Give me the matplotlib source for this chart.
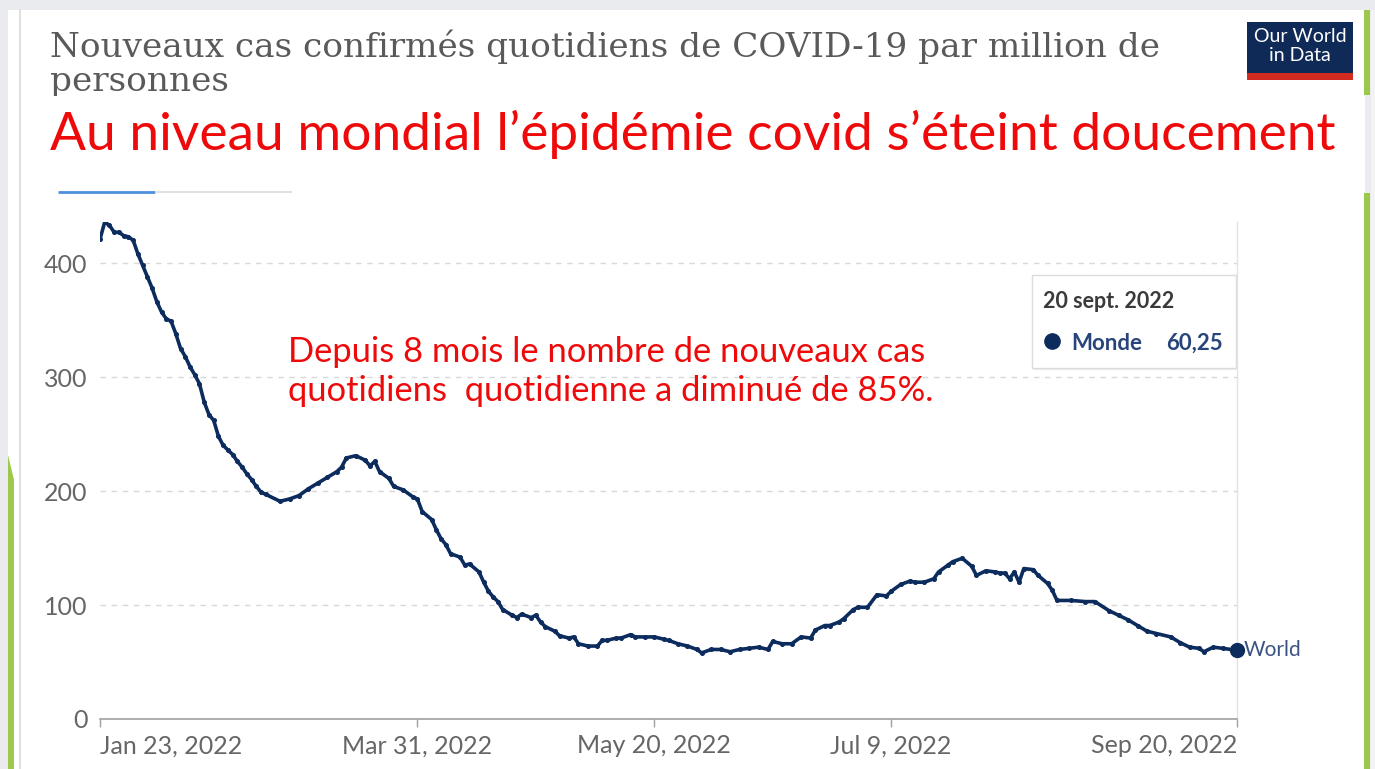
import numpy as np
import pandas as pd
import matplotlib
matplotlib.use("Agg")
import matplotlib.pyplot as plt
from matplotlib.patches import Rectangle, FancyBboxPatch, Polygon

# ---------------- data ----------------
start_date = "2022-01-23"
day_offsets = [0, 1, 2, 3, 4, 5, 6, 7, 8, 9, 10, 11, 12, 13, 14, 15, 16, 17, 18, 19,
               20, 21, 22, 23, 24, 25, 26, 27, 28, 29, 30, 31, 32, 33, 34, 35, 38, 40, 42, 44,
               46, 48, 50, 51, 52, 54, 56, 57, 58, 59, 61, 62, 64, 66, 67, 68, 70, 71, 72, 73,
               74, 76, 77, 78, 80, 81, 82, 83, 84, 85, 87, 88, 89, 91, 92, 93, 94, 96, 97, 99,
               100, 101, 103, 105, 106, 107, 109, 110, 112, 113, 115, 117, 119, 120, 122, 124, 126, 127, 129, 131,
               133, 135, 137, 139, 141, 142, 144, 146, 148, 150, 151, 153, 154, 156, 157, 159, 160, 162, 164, 166,
               167, 169, 171, 172, 174, 176, 177, 179, 180, 182, 184, 185, 187, 189, 190, 191, 192, 193, 194, 195,
               197, 198, 200, 201, 202, 205, 208, 210, 213, 215, 217, 219, 221, 223, 226, 228, 230, 232, 233, 235,
               237, 240]
cases_per_million = [421, 436, 433, 427, 427, 424, 423, 420, 408, 398, 388, 378, 366, 357, 351, 349, 338, 325, 318, 309,
                     302, 294, 278, 267, 262, 248, 240, 236, 232, 226, 221, 215, 210, 204, 199, 197, 191, 193, 196, 202,
                     207, 212, 217, 221, 229, 231, 227, 222, 226, 217, 211, 204, 201, 195, 193, 182, 175, 166, 158, 153,
                     145, 142, 135, 136, 129, 120, 112, 107, 103, 96, 91, 89, 92, 89, 91, 85, 81, 77, 73, 71,
                     72, 66, 64, 64, 69, 69, 71, 71, 74, 72, 72, 72, 70, 69, 66, 64, 61, 58, 61, 61,
                     59, 61, 62, 63, 61, 68, 66, 66, 72, 71, 78, 82, 82, 85, 88, 96, 98, 98, 109, 108,
                     112, 118, 121, 120, 120, 123, 129, 135, 138, 141, 134, 126, 130, 129, 128, 128, 123, 129, 120, 132,
                     131, 126, 119, 113, 104, 104, 103, 103, 95, 91, 87, 82, 77, 75, 72, 67, 63, 62, 59, 63,
                     62, 60.25]
tick_dates = ["2022-01-23", "2022-03-31", "2022-05-20", "2022-07-09", "2022-09-20"]
tick_labels = ["Jan 23, 2022", "Mar 31, 2022", "May 20, 2022", "Jul 9, 2022", "Sep 20, 2022"]
y_ticks = [0, 100, 200, 300, 400]
series_name = "World"
tooltip_date = "20 sept. 2022"
tooltip_series = "Monde"
tooltip_value = "60,25"

dates = pd.Timestamp(start_date) + pd.to_timedelta(day_offsets, unit="D")

# ---------------- figure ----------------
W, H = 1375, 769
fig = plt.figure(figsize=(W / 100, H / 100), dpi=100, facecolor="#eaebee")

# background / decoration axes in pixel coords (y downward)
bg = fig.add_axes([0, 0, 1, 1], zorder=0)
bg.set_xlim(0, W)
bg.set_ylim(H, 0)
bg.axis("off")
bg.add_patch(Rectangle((8, 10), 1357, H - 10, facecolor="white", edgecolor="none"))
bg.add_patch(Rectangle((1371, 10), 4, H - 10, facecolor="#f3f3f3", edgecolor="none"))
bg.plot([20, 20], [10, H], color="#d9d9d9", lw=1.2)
green = "#9cc84b"
bg.add_patch(Rectangle((1364, 10), 6, 85, facecolor=green, edgecolor="none"))
bg.add_patch(Rectangle((1364, 193), 6, H - 193, facecolor=green, edgecolor="none"))
bg.add_patch(Polygon([(8, 455), (14, 480), (14, H), (8, H)], closed=True, facecolor=green, edgecolor="none"))

# tab underline
bg.plot([58, 155], [192, 192], color="#4d8fdc", lw=2, solid_capstyle="butt")
bg.plot([155, 292], [192, 192], color="#e2e2e2", lw=1.5, solid_capstyle="butt")

# logo
bg.add_patch(Rectangle((1247, 22), 106, 51, facecolor="#0f2a57", edgecolor="none"))
bg.add_patch(Rectangle((1247, 73), 106, 7, facecolor="#d42b21", edgecolor="none"))
bg.text(1300, 46, "Our World\nin Data", color="white", ha="center", va="center",
        fontsize=14, family="Lato", linespacing=1.08)

# title (serif, grey), second line partly hidden
bg.text(50, 57, "Nouveaux cas confirmés quotidiens de COVID-19 par million de",
        fontsize=24.7, family="DejaVu Serif", color="#5a5a5a", va="baseline", ha="left")
bg.text(50, 91, "personnes", fontsize=24.7, family="DejaVu Serif", color="#5a5a5a",
        va="baseline", ha="left")
bg.add_patch(Rectangle((21, 96), 1342, 60, facecolor="white", edgecolor="none", zorder=3))
bg.text(50, 150, "Au niveau mondial l\u2019épidémie covid s\u2019éteint doucement",
        fontsize=38.3, family="Lato", color="#ee0a0a", va="baseline", ha="left", zorder=4)

# ---------------- main chart ----------------
ax_left, ax_right, ax_bottom_px, ax_top_px = 100, 1237, 719, 222
ax = fig.add_axes([ax_left / W, (H - ax_bottom_px) / H, (ax_right - ax_left) / W,
                   (ax_bottom_px - ax_top_px) / H], zorder=1)
ax.set_facecolor("none")
ax.set_xlim(pd.Timestamp(tick_dates[0]), pd.Timestamp(tick_dates[-1]))
ax.set_ylim(0, 436)

for s in ["top", "left"]:
    ax.spines[s].set_visible(False)
ax.spines["bottom"].set_color("#a0a0a0")
ax.spines["bottom"].set_linewidth(1.2)
ax.spines["right"].set_color("#e3e3e3")
ax.spines["right"].set_linewidth(1)

ax.set_yticks(y_ticks)
ax.set_yticklabels([str(v) for v in y_ticks])
ax.tick_params(axis="y", length=0, pad=9, labelsize=18, labelcolor="#666666")
ax.yaxis.grid(True, linestyle=(0, (4, 4)), color="#d8d8d8", linewidth=1)
ax.set_axisbelow(True)

ax.set_xticks(pd.to_datetime(tick_dates))
ax.set_xticklabels(tick_labels)
ax.tick_params(axis="x", length=6, width=1, color="#a0a0a0", pad=5, labelsize=18, labelcolor="#666666")
xl = ax.get_xticklabels()
xl[0].set_ha("left")
xl[-1].set_ha("right")
for lab in ax.get_xticklabels() + ax.get_yticklabels():
    lab.set_family("Lato")

line_color = "#0d2c5e"
ax.plot(dates, cases_per_million, color=line_color, lw=2.6, marker="o", ms=2.6,
        solid_joinstyle="round", zorder=3)
ax.plot(dates[-1], cases_per_million[-1], "o", color=line_color, ms=10, clip_on=False, zorder=4)
ax.annotate(series_name, (dates[-1], cases_per_million[-1]), xytext=(5, 0),
            textcoords="offset points", va="center", ha="left", fontsize=15,
            family="Lato", color="#3b5382", annotation_clip=False)

# ---------------- overlay texts ----------------
fg = fig.add_axes([0, 0, 1, 1], zorder=5)
fg.set_xlim(0, W)
fg.set_ylim(H, 0)
fg.axis("off")

fg.text(288, 362, "Depuis 8 mois le nombre de nouveaux cas", fontsize=24.8, family="Lato",
        color="#ee0a0a", va="baseline", ha="left")
fg.text(288, 401, "quotidiens  quotidienne a diminué de 85%.", fontsize=24.8, family="Lato",
        color="#ee0a0a", va="baseline", ha="left")

# tooltip
fg.add_patch(FancyBboxPatch((1034, 277), 204, 93, boxstyle="square,pad=0",
                            facecolor="#e8e8e8", edgecolor="none", alpha=0.8))
fg.add_patch(FancyBboxPatch((1032, 275), 204, 93, boxstyle="square,pad=0",
                            facecolor="white", edgecolor="#dcdcdc", lw=1))
fg.text(1043, 308, tooltip_date, fontsize=15.5, family="Lato", fontweight="bold",
        color="#3a3a3a", va="baseline", ha="left")
fg.plot([1052], [341], "o", color="#0d2c5e", ms=11)
fg.text(1071, 350, tooltip_series, fontsize=16, family="Lato", fontweight="bold",
        color="#27457a", va="baseline", ha="left")
fg.text(1223, 350, tooltip_value, fontsize=16, family="Lato", fontweight="bold",
        color="#27457a", va="baseline", ha="right")

fig.savefig("out.png", dpi=100, facecolor=fig.get_facecolor())
